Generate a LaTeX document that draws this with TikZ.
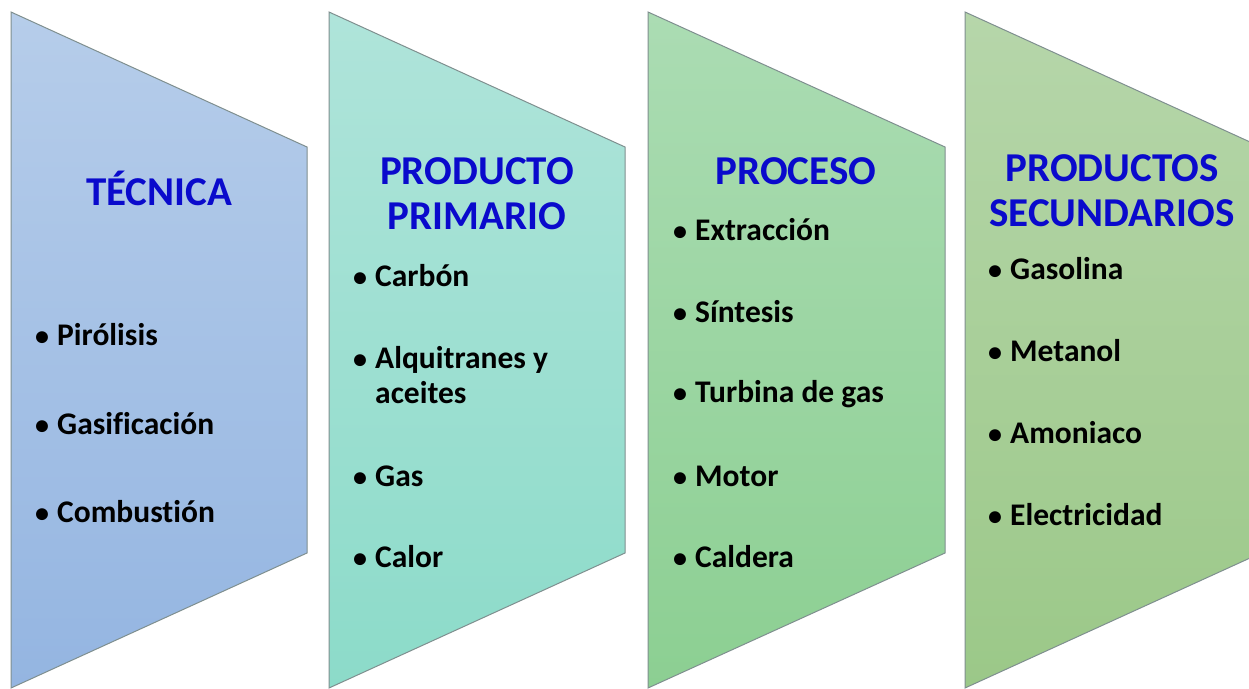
\documentclass[tikz,border=0pt]{standalone}
\usepackage{fontspec}
\setmainfont{Carlito}[Ligatures=NoCommon]
\usetikzlibrary{positioning}

\definecolor{blueTop}{HTML}{B6CDEA}
\definecolor{blueBot}{HTML}{94B5E1}
\definecolor{tealTop}{HTML}{AFE4DA}
\definecolor{tealBot}{HTML}{8CDBC9}
\definecolor{greenTop}{HTML}{ABDCB3}
\definecolor{greenBot}{HTML}{8CCF92}
\definecolor{oliveTop}{HTML}{B6D6AA}
\definecolor{oliveBot}{HTML}{9BC888}
\definecolor{titleBlue}{HTML}{0A0ACC}
\definecolor{edgeGray}{HTML}{7F8F8F}

\newcommand{\bul}{\makebox[22pt][l]{\fontsize{28}{28}\selectfont•}}
\newcommand{\nobul}{\hspace*{22pt}}

\tikzstyle{panel} = [draw=edgeGray, line width=1pt]
\tikzstyle{title} = [text=titleBlue, font=\fontsize{41}{45}\selectfont\bfseries, align=center]
\tikzstyle{item} = [anchor=west, inner sep=0pt, font=\fontsize{31.5}{35}\selectfont\bfseries, align=left]

\begin{document}
\begin{tikzpicture}[x=1pt, y=-1pt]
\useasboundingbox (0,0) rectangle (1249,688);

% panels
\path [panel, top color=blueTop, bottom color=blueBot] (11,12) -- (307,147) -- (307,553) -- (11,688) -- cycle;
\path [panel, top color=tealTop, bottom color=tealBot] (329,12) -- (625,147) -- (625,553) -- (329,688) -- cycle;
\path [panel, top color=greenTop, bottom color=greenBot] (648,12) -- (945,147) -- (945,553) -- (648,688) -- cycle;
\path [panel, top color=oliveTop, bottom color=oliveBot] (965,12) -- (1261,147) -- (1261,553) -- (965,688) -- cycle;

% titles
\node [title] (tecnica) at (159,188) {TÉCNICA};
\node [title] (primario) at (477,194) {PRODUCTO\\PRIMARIO};
\node [title] (proceso) at (796,171) {PROCESO};
\node [title] (secundarios) at (1112,191) {PRODUCTOS\\SECUNDARIOS};

% tecnica
\node [item] (pirolisis) at (35,335) {\bul Pirólisis};
\node [item] (gasificacion) at (35,424) {\bul Gasificación};
\node [item] (combustion) at (35,512) {\bul Combustión};

% producto primario
\node [item] (carbon) at (353,276) {\bul Carbón};
\node [item] (alquitranes) at (353,375) {\bul Alquitranes y\\\nobul aceites};
\node [item] (gas) at (353,476) {\bul Gas};
\node [item] (calor) at (353,557) {\bul Calor};

% proceso
\node [item] (extraccion) at (673,230) {\bul Extracción};
\node [item] (sintesis) at (673,312) {\bul Síntesis};
\node [item] (turbina) at (673,394) {\bul Turbina de gas};
\node [item] (motor) at (673,476) {\bul Motor};
\node [item] (caldera) at (673,557) {\bul Caldera};

% productos secundarios
\node [item] (gasolina) at (988,269) {\bul Gasolina};
\node [item] (metanol) at (988,351) {\bul Metanol};
\node [item] (amoniaco) at (988,433) {\bul Amoniaco};
\node [item] (electricidad) at (988,515) {\bul Electricidad};

\end{tikzpicture}
\end{document}
